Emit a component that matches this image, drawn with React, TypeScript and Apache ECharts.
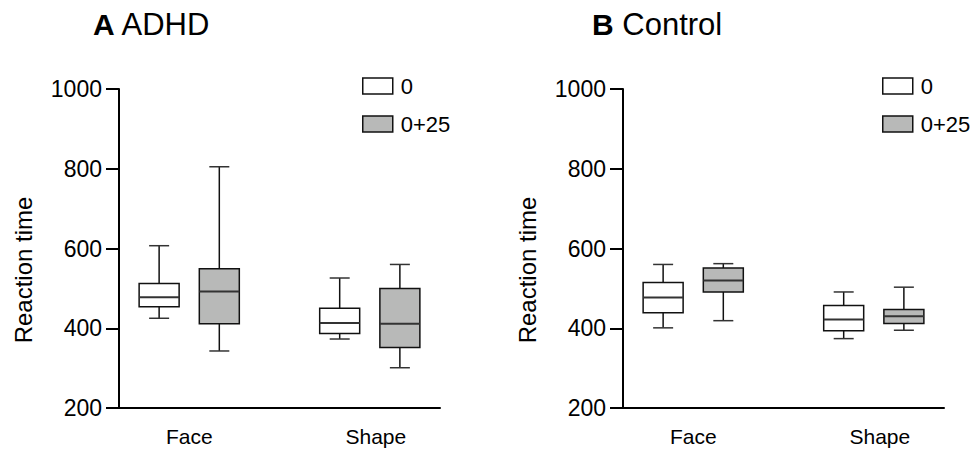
import React, { useEffect, useRef } from "react";
import * as echarts from "echarts";

// ---- data ----
const panelTitles = ["ADHD", "Control"];
const panelLetters = ["A", "B"];
const categories = ["Face", "Shape"];
const seriesNames = ["0", "0+25"];
const yTicks = [200, 400, 600, 800, 1000];
const yAxisTitle = "Reaction time";

// [min, Q1, median, Q3, max] for Face, Shape
const adhdBaseline = [
  [425, 454, 478, 512, 607],
  [373, 387, 413, 450, 526],
];
const adhdDrug = [
  [343, 411, 492, 549, 805],
  [301, 352, 411, 500, 560],
];
const controlBaseline = [
  [401, 439, 477, 515, 560],
  [374, 394, 422, 457, 491],
];
const controlDrug = [
  [419, 491, 520, 551, 562],
  [395, 412, 430, 447, 503],
];

// ---- layout / style ----
const FONT = "'Liberation Sans', Arial, Helvetica, sans-serif";
const FILLS = ["#ffffff", "#b8b9b8"];
const GROUP_POS = [1.5, 4.5];
const LABEL_POS = [1.5, 4.6];
const BOX_OFFSET = 0.5;
const BOX_W = 40;
const CAP_W = 20;
const GRID_LEFT = [119, 623];

function makeRender(fill: string) {
  return (params: any, api: any) => {
    const x = api.value(0);
    const v = [1, 2, 3, 4, 5].map((i) => api.value(i));
    const p = v.map((val) => api.coord([x, val]));
    const cx = p[0][0];
    const hw = BOX_W / 2;
    const hc = CAP_W / 2;
    const stroke = { stroke: "#111", lineWidth: 1.5 };
    return {
      type: "group",
      children: [
        { type: "line", shape: { x1: cx, y1: p[4][1], x2: cx, y2: p[3][1] }, style: stroke },
        { type: "line", shape: { x1: cx, y1: p[1][1], x2: cx, y2: p[0][1] }, style: stroke },
        { type: "line", shape: { x1: cx - hc, y1: p[4][1], x2: cx + hc, y2: p[4][1] }, style: { stroke: "#333", lineWidth: 1.5 } },
        { type: "line", shape: { x1: cx - hc, y1: p[0][1], x2: cx + hc, y2: p[0][1] }, style: { stroke: "#333", lineWidth: 1.5 } },
        {
          type: "rect",
          shape: { x: cx - hw, y: p[3][1], width: BOX_W, height: p[1][1] - p[3][1] },
          style: { fill, stroke: "#111", lineWidth: 1.5 },
        },
        { type: "line", shape: { x1: cx - hw, y1: p[2][1], x2: cx + hw, y2: p[2][1] }, style: { stroke: "#333", lineWidth: 2 } },
      ],
    };
  };
}

function toItems(stats: number[][], side: number) {
  return stats.map((s, i) => [GROUP_POS[i] + side * BOX_OFFSET, ...s]);
}

export default function App() {
  const ref = useRef<HTMLDivElement>(null);
  useEffect(() => {
    if (!ref.current) return;
    const chart = echarts.init(ref.current, null, { renderer: "svg" });
    const panels = [
      [adhdBaseline, adhdDrug],
      [controlBaseline, controlDrug],
    ];
    const grids = GRID_LEFT.map((l) => ({ left: l, top: 89, width: 321, height: 319 }));
    const xAxes = GRID_LEFT.map((_, gi) => ({
      type: "value",
      gridIndex: gi,
      min: 1 / 3,
      max: 17 / 3,
      axisLine: { show: true, onZero: false, lineStyle: { color: "#000", width: 2 } },
      axisTick: { show: false },
      splitLine: { show: false },
      axisLabel: {
        customValues: LABEL_POS,
        formatter: (v: number) => {
          let best = 0;
          LABEL_POS.forEach((g, i) => {
            if (Math.abs(g - v) < Math.abs(LABEL_POS[best] - v)) best = i;
          });
          return categories[best];
        },
        margin: 18,
        fontSize: 21,
        color: "#000",
        fontFamily: FONT,
      },
    }));
    const yAxes = GRID_LEFT.map((_, gi) => ({
      type: "value",
      gridIndex: gi,
      min: yTicks[0],
      max: yTicks[yTicks.length - 1],
      interval: yTicks[1] - yTicks[0],
      axisLine: { show: true, onZero: false, lineStyle: { color: "#000", width: 2 } },
      axisTick: { show: true, length: 13, lineStyle: { color: "#000", width: 2 } },
      splitLine: { show: false },
      axisLabel: {
        margin: 17,
        fontSize: 23,
        color: "#000",
        fontFamily: FONT,
        formatter: (v: number) => String(v),
      },
    }));
    const series: any[] = [];
    panels.forEach((pair, gi) => {
      pair.forEach((stats, si) => {
        series.push({
          type: "custom",
          name: seriesNames[si],
          xAxisIndex: gi,
          yAxisIndex: gi,
          itemStyle: { color: FILLS[si], borderColor: "#111", borderWidth: 1.5 },
          renderItem: makeRender(FILLS[si]),
          encode: { x: 0, y: [1, 2, 3, 4, 5] },
          data: toItems(stats, si === 0 ? -1 : 1),
        });
      });
    });
    const legends = [362, 882].map((l) => ({
      orient: "vertical",
      left: l,
      top: 75,
      padding: 0,
      itemWidth: 30,
      itemHeight: 16,
      itemGap: 16,
      selectedMode: false,
      textStyle: { fontSize: 22, lineHeight: 22, color: "#000", fontFamily: FONT, padding: [0, 0, 0, 3] },
      data: seriesNames.map((n, i) => ({
        name: n,
        icon: "rect",
        itemStyle: { color: FILLS[i], borderColor: "#111", borderWidth: 1.5 },
      })),
    }));
    const titles = [93, 592].map((l, i) => ({
      text: `{b|${panelLetters[i]}} ${panelTitles[i]}`,
      left: l,
      top: 8,
      padding: 0,
      textStyle: {
        fontSize: 31,
        fontWeight: "normal",
        color: "#000",
        fontFamily: FONT,
        lineHeight: 32,
        rich: { b: { fontSize: 30, fontWeight: "bold", color: "#000", fontFamily: FONT, lineHeight: 32 } },
      },
    }));
    const graphics = GRID_LEFT.map((l) => ({
      type: "text",
      x: l - 96,
      y: 270,
      rotation: Math.PI / 2,
      style: {
        text: yAxisTitle,
        fontSize: 24,
        fontFamily: FONT,
        fill: "#000",
        align: "center",
        verticalAlign: "middle",
      },
    }));
    chart.setOption({
      animation: false,
      backgroundColor: "#fff",
      title: titles,
      legend: legends,
      grid: grids,
      xAxis: xAxes,
      yAxis: yAxes,
      series,
      graphic: graphics,
    });
    return () => chart.dispose();
  }, []);
  return <div ref={ref} style={{ width: 973, height: 453, position: "absolute", left: 0, top: 0 }} />;
}
